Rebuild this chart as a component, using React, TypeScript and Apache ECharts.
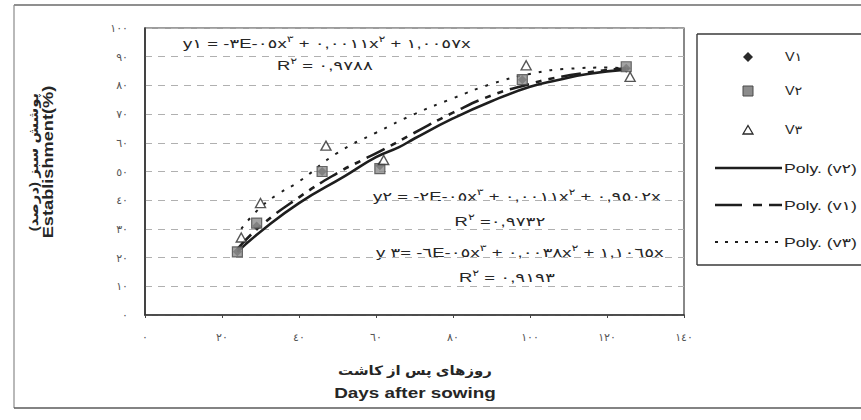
import React, { useEffect, useRef } from "react";
import * as echarts from "echarts";

// Arabic-Indic digits as used in the figure
const AR_DIGITS = ["٠", "١", "٢", "٣", "٤", "٥", "٦", "٧", "٨", "٩"];
const ar = (v: number | string) => String(v).replace(/\d/g, (d) => AR_DIGITS[+d]);

// Observed points (days after sowing, establishment %)
const DAYS_V1 = [24, 29, 46, 61, 98, 125];
const VALUES_V1 = [22, 31, 50, 52, 82, 86];
const DAYS_V2 = [24, 29, 46, 61, 98, 125];
const VALUES_V2 = [22, 32, 50, 51, 82, 86.5];
const DAYS_V3 = [25, 30, 47, 62, 99, 126];
const VALUES_V3 = [27, 39, 59, 54, 87, 83];

// Polynomial trend lines
const TREND_DAYS_V2 = [24, 30, 40, 52, 60, 66, 70, 80, 90, 100, 107, 115, 125];
const TREND_V2 = [22, 29, 39, 48.5, 55, 58.5, 61.5, 68.5, 74.5, 79.5, 81.8, 84, 85.5];
const TREND_DAYS_V1 = [24, 30, 40, 50, 56, 61, 70, 80, 90, 100, 105, 115, 125];
const TREND_V1 = [23, 31, 41, 49.5, 53.7, 57, 63.5, 70.5, 76.5, 80.5, 82.2, 84.5, 86];
const TREND_DAYS_V3 = [25, 30, 35, 40, 50, 60, 70, 80, 90, 100, 110, 120, 126];
const TREND_V3 = [30, 37.5, 42.5, 46.5, 56.5, 63.5, 70, 75.5, 80.5, 84, 85.8, 86.2, 85.8];

// Texts
const LEGEND_NAMES = ["V١", "V٢", "V٣", "Poly. (v٢)", "Poly. (v١)", "Poly. (v٣)"];
const EQ1 = ["y١ = -٣E-٠٥x", "٣", " + ٠,٠٠١١x", "٢", " + ١,٠٠٥٧x"];
const R1 = ["R", "٢", " = ٠,٩٧٨٨"];
const EQ2 = ["y٢ = -٢E-٠٥x", "٣", " + ٠,٠٠١١x", "٢", " + ٠,٩٥٠٢x"];
const R2 = ["R", "٢", " =٠,٩٧٣٢"];
const EQ3 = ["y ٣= -٦E-٠٥x", "٣", " + ٠,٠٠٣٨x", "٢", " + ١,١٠٦٥x"];
const R3 = ["R", "٢", " = ٠,٩١٩٣"];
const Y_TITLE_FA = "\u200Fپوشش سبز (درصد)\u200F";
const Y_TITLE_EN = "Establishment(%)";
const X_TITLE_FA = "روزهای پس از کاشت";
const X_TITLE_EN = "Days after sowing";

const FONT = "'Liberation Sans', 'DejaVu Sans', Arial, sans-serif";
const INK = "#262626";
const LRO = "\u202D";
const PDF = "\u202C";

const richEq = (parts: string[]) =>
  parts.map((p, i) => (i % 2 === 1 ? `{sup|${p}}` : `{n|${LRO}${p}${PDF}}`)).join("");

const eqText = (parts: string[], x: number, y: number, align: string) => ({
  type: "text",
  x,
  y,
  scaleX: 1.42,
  silent: true,
  style: {
    text: richEq(parts),
    textAlign: align,
    textVerticalAlign: "middle",
    fill: INK,
    rich: {
      n: { fontSize: 13, fontFamily: FONT, fill: INK, lineHeight: 16, verticalAlign: "bottom" },
      sup: { fontSize: 9, fontFamily: FONT, fill: INK, lineHeight: 10, verticalAlign: "top" },
    },
  },
});

const plainText = (
  text: string,
  x: number,
  y: number,
  opts: Record<string, any> = {}
) => ({
  type: "text",
  x,
  y,
  rotation: opts.rotation || 0,
  scaleX: opts.scaleX || 1,
  silent: true,
  style: {
    text,
    textAlign: opts.align || "left",
    textVerticalAlign: "middle",
    fontSize: opts.size || 13,
    fontWeight: opts.weight || "normal",
    fontFamily: FONT,
    fill: opts.fill || INK,
  },
});

const seg = (x1: number, y1: number, x2: number, y2: number, style: Record<string, any>) => ({
  type: "line",
  silent: true,
  shape: { x1, y1, x2, y2 },
  style: { stroke: "#333", lineWidth: 1.2, ...style },
});

export default function App() {
  const ref = useRef<HTMLDivElement>(null);

  useEffect(() => {
    if (!ref.current) return;
    const chart = echarts.init(ref.current, null, { renderer: "svg" });

    const pairs = (xs: number[], ys: number[]) => xs.map((x, i) => [x, ys[i]]);

    const lineSeries = (name: string, data: number[][], type: any, width: number) => ({
      name,
      type: "line",
      data,
      smooth: 0.5,
      showSymbol: false,
      symbol: "none",
      z: 2,
      lineStyle: { color: "#1e1e1e", width, type },
      silent: true,
    });

    chart.setOption({
      animation: false,
      backgroundColor: "#ffffff",
      textStyle: { fontFamily: FONT },
      grid: {
        left: 145,
        top: 28,
        width: 539,
        height: 287,
        show: true,
        borderColor: "#3a3a3a",
        borderWidth: 1.2,
        backgroundColor: "transparent",
      },
      xAxis: {
        type: "value",
        min: 0,
        max: 140,
        interval: 20,
        axisLine: { show: true, onZero: false, lineStyle: { color: "#333", width: 1.6 } },
        axisTick: { show: true, length: 3, lineStyle: { color: "#444" } },
        axisLabel: { margin: 16, color: "#555", fontSize: 11, fontFamily: FONT, formatter: (v: number) => ar(v) },
        splitLine: { show: false },
      },
      yAxis: {
        type: "value",
        min: 0,
        max: 100,
        interval: 10,
        axisLine: { show: true, onZero: false, lineStyle: { color: "#333", width: 1.6 } },
        axisTick: { show: false },
        axisLabel: { margin: 17, color: "#555", fontSize: 11, fontFamily: FONT, formatter: (v: number) => ar(v) },
        splitLine: { show: true, lineStyle: { color: "#b0b0b0", width: 1, type: [7, 6] } },
      },
      series: [
        lineSeries(LEGEND_NAMES[3], pairs(TREND_DAYS_V2, TREND_V2), "solid", 2.6),
        lineSeries(LEGEND_NAMES[4], pairs(TREND_DAYS_V1, TREND_V1), [20, 7, 6, 7, 6, 7], 2.6),
        lineSeries(LEGEND_NAMES[5], pairs(TREND_DAYS_V3, TREND_V3), [3, 8], 2),
        {
          name: LEGEND_NAMES[0],
          type: "scatter",
          data: pairs(DAYS_V1, VALUES_V1),
          symbol: "diamond",
          symbolSize: 9,
          z: 3,
          itemStyle: { color: "#2a2a2a" },
        },
        {
          name: LEGEND_NAMES[1],
          type: "scatter",
          data: pairs(DAYS_V2, VALUES_V2),
          symbol: "rect",
          symbolSize: 10,
          z: 4,
          itemStyle: { color: "#8c8c8c", borderColor: "#4a4a4a", borderWidth: 1.2 },
        },
        {
          name: LEGEND_NAMES[2],
          type: "scatter",
          data: pairs(DAYS_V3, VALUES_V3),
          symbol: "triangle",
          symbolSize: [10, 9],
          z: 5,
          itemStyle: { color: "#ffffff", borderColor: "#2a2a2a", borderWidth: 1.4 },
        },
      ],
      graphic: [
        // outer frame of the figure
        seg(14, 5, 861, 5, { stroke: "#6a6a6a", lineWidth: 1.5 }),
        seg(14, 5, 14, 408, { stroke: "#8a8a8a", lineWidth: 1.2 }),
        seg(14, 408, 861, 408, { stroke: "#5a5a5a", lineWidth: 1.5 }),
        // legend box
        seg(697, 34, 861, 34, { stroke: "#3a3a3a", lineWidth: 1.4 }),
        seg(697, 34, 697, 265, { stroke: "#3a3a3a", lineWidth: 1.4 }),
        seg(697, 265, 861, 265, { stroke: "#3a3a3a", lineWidth: 1.4 }),
        // legend markers
        {
          type: "polygon",
          silent: true,
          shape: { points: [[748, 52], [753, 57], [748, 62], [743, 57]] },
          style: { fill: "#2a2a2a" },
        },
        {
          type: "rect",
          silent: true,
          shape: { x: 743, y: 86, width: 10, height: 10 },
          style: { fill: "#8c8c8c", stroke: "#4a4a4a", lineWidth: 1 },
        },
        {
          type: "polygon",
          silent: true,
          shape: { points: [[748, 125.5], [753, 134], [743, 134]] },
          style: { fill: "#ffffff", stroke: "#2a2a2a", lineWidth: 1.3 },
        },
        seg(715, 168, 782, 168, { stroke: "#1e1e1e", lineWidth: 2.6 }),
        seg(715, 205, 782, 205, { stroke: "#1e1e1e", lineWidth: 2.6, lineDash: [27, 11, 9, 7] }),
        seg(715, 242, 782, 242, { stroke: "#1e1e1e", lineWidth: 2, lineDash: [3, 7] }),
        plainText(LEGEND_NAMES[0], 785, 57, { size: 12, scaleX: 1.2 }),
        plainText(LEGEND_NAMES[1], 785, 91, { size: 12, scaleX: 1.2 }),
        plainText(LEGEND_NAMES[2], 785, 130, { size: 12, scaleX: 1.2 }),
        plainText(LEGEND_NAMES[3], 784, 168, { size: 13, scaleX: 1.36 }),
        plainText(LEGEND_NAMES[4], 784, 205, { size: 13, scaleX: 1.36 }),
        plainText(LEGEND_NAMES[5], 784, 242, { size: 13, scaleX: 1.36 }),
        // trend equations
        eqText(EQ1, 183, 42, "left"),
        eqText(R1, 325, 64, "center"),
        eqText(EQ2, 373, 195, "left"),
        eqText(R2, 500, 220, "center"),
        eqText(EQ3, 376, 251, "left"),
        eqText(R3, 507, 276, "center"),
        // axis titles
        plainText(Y_TITLE_FA, 33, 162, { rotation: Math.PI / 2, align: "center", size: 13, weight: "bold", scaleX: 1.15 }),
        plainText(Y_TITLE_EN, 48, 162, { rotation: Math.PI / 2, align: "center", size: 14, weight: "bold", scaleX: 1.3 }),
        plainText(X_TITLE_FA, 415, 370, { align: "center", size: 13, weight: "bold", scaleX: 1.15 }),
        plainText(X_TITLE_EN, 415, 393, { align: "center", size: 14, weight: "bold", scaleX: 1.35 }),
      ],
    });

    return () => chart.dispose();
  }, []);

  return (
    <div
      ref={ref}
      style={{ position: "fixed", left: 0, top: 0, width: 861, height: 420, background: "#fff" }}
    />
  );
}
